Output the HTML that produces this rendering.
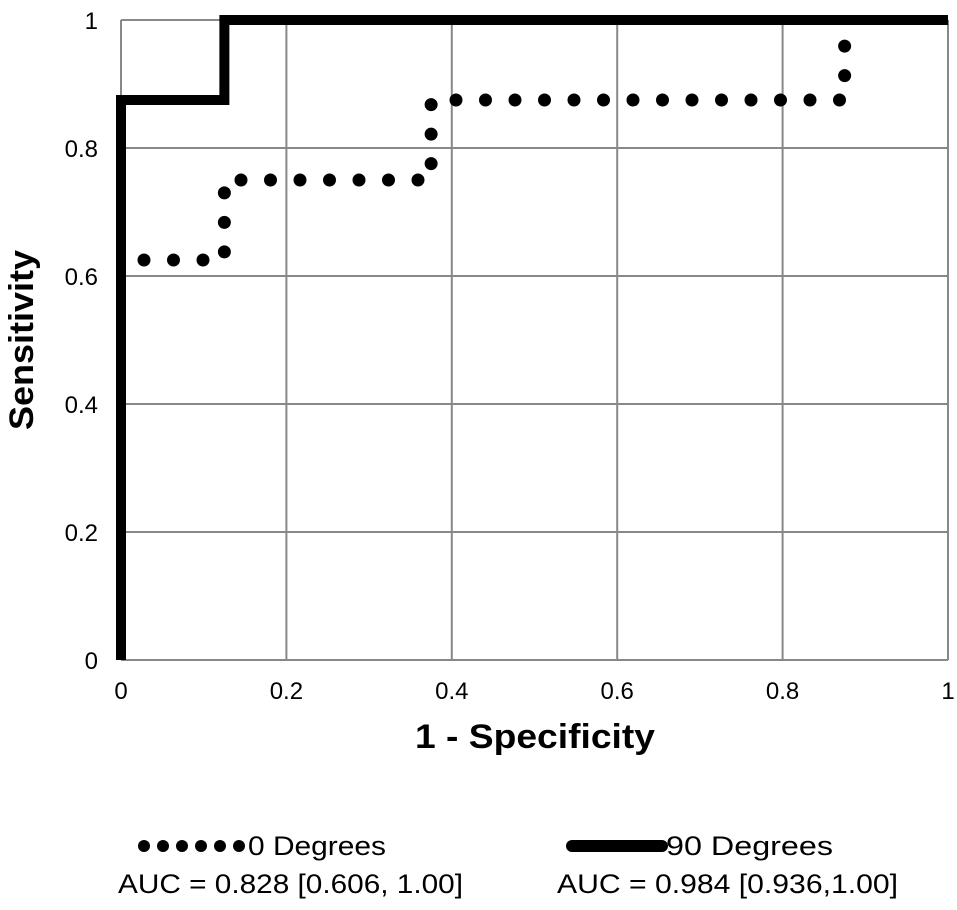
<!DOCTYPE html>
<html><head><meta charset="utf-8"><style>
body{margin:0;background:#fff;}
svg text{font-family:"Liberation Sans",Arial,sans-serif;}
</style></head><body>
<svg width="957" height="905" viewBox="0 0 957 905">
<g id="grid"></g>
<g id="ticks"></g>
<g id="series"></g>
<text x="415" y="748" font-size="34" font-weight="bold" textLength="240" lengthAdjust="spacingAndGlyphs">1 - Specificity</text>
<text transform="translate(33,430) rotate(-90)" font-size="34" font-weight="bold" textLength="180" lengthAdjust="spacingAndGlyphs">Sensitivity</text>
<g>
<g fill="#000">
<circle cx="144" cy="846" r="6"/><circle cx="163" cy="846" r="6"/><circle cx="182" cy="846" r="6"/><circle cx="201" cy="846" r="6"/><circle cx="220" cy="846" r="6"/><circle cx="239" cy="846" r="6"/>
</g>
<text x="248" y="855" font-size="27" textLength="138" lengthAdjust="spacingAndGlyphs">0 Degrees</text>
<text x="118" y="893" font-size="27" textLength="345" lengthAdjust="spacingAndGlyphs">AUC = 0.828 [0.606, 1.00]</text>
</g>
<g>
<line x1="572" y1="846" x2="662" y2="846" stroke="#000" stroke-width="12" stroke-linecap="round"/>
<text x="666" y="855" font-size="27" textLength="167" lengthAdjust="spacingAndGlyphs">90 Degrees</text>
<text x="557" y="893" font-size="27" textLength="341" lengthAdjust="spacingAndGlyphs">AUC = 0.984 [0.936,1.00]</text>
</g>
</svg>
<script>
const ticks=[0,0.2,0.4,0.6,0.8,1];
const tickLabels=["0","0.2","0.4","0.6","0.8","1"];
const fpr0=[0,0.125,0.125,0.375,0.375,0.875,0.875];
const tpr0=[0.625,0.625,0.75,0.75,0.875,0.875,1];
const fpr90=[0,0,0.125,0.125,1];
const tpr90=[0,0.875,0.875,1,1];
const X=v=>121+v*827, Y=v=>660-v*640;
const NS="http://www.w3.org/2000/svg";
function mk(t,a,p){const e=document.createElementNS(NS,t);for(const k in a)e.setAttribute(k,a[k]);p.appendChild(e);return e;}
const g=document.getElementById('grid'),tk=document.getElementById('ticks'),s=document.getElementById('series');
ticks.forEach((t,i)=>{
 const v=mk('line',{x1:X(t),x2:X(t),y1:Y(0),y2:Y(1),stroke:'#888','stroke-width':2},g);
 
 
 const h=mk('line',{x1:X(0),x2:X(1),y1:Y(t),y2:Y(t),stroke:'#888','stroke-width':2},g);
 
 
 const xl=mk('text',{x:X(t),y:699,'font-size':24,'text-anchor':'middle'},tk);xl.textContent=tickLabels[i];
 
 
 const yl=mk('text',{x:98,y:Y(t)+9,'font-size':24,'text-anchor':'end'},tk);yl.textContent=tickLabels[i];
 
 
});
const p0=mk('polyline',{points:fpr0.map((f,i)=>X(f)+','+Y(tpr0[i])).join(' '),fill:'none',stroke:'#000','stroke-width':13,'stroke-linecap':'round','stroke-dasharray':'0 29.5','stroke-dashoffset':6.5},s);


const p90=mk('polyline',{points:fpr90.map((f,i)=>X(f)+','+Y(tpr90[i])).join(' '),fill:'none',stroke:'#000','stroke-width':10},s);


</script>
</body></html>
